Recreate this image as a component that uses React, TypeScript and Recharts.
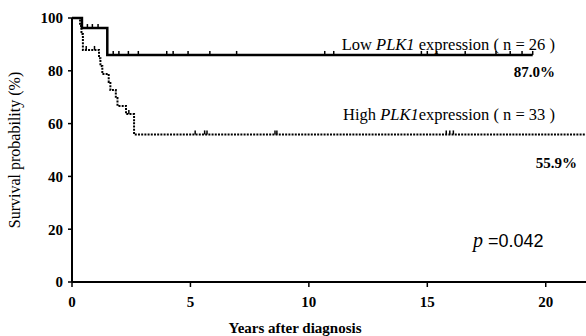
import { ComposedChart, Line, XAxis, YAxis } from "recharts";

// Kaplan-Meier step points (years, survival %)
const lowTime = [0, 0.42, 1.49];
const lowSurv = [100, 96.2, 86.0];
const lowCensor = [0.65, 0.86, 1.1, 1.74, 1.98, 2.38, 2.8, 4.0, 4.27, 4.9, 5.82, 6.95, 10.67, 11.05, 14.75, 15.0, 15.4, 16.6, 17.9, 18.5, 19.0, 19.45];

const highTime = [0, 0.34, 0.4, 0.46, 1.14, 1.2, 1.28, 1.55, 1.62, 1.85, 1.92, 2.28, 2.62];
const highSurv = [100, 97.0, 93.9, 87.9, 84.8, 81.8, 78.8, 75.8, 72.7, 69.7, 66.7, 63.6, 55.9];
const highCensor = [0.6, 0.95, 2.4, 5.2, 5.6, 5.7, 8.57, 8.65, 15.8, 15.95, 16.1];
const highEnd = 21.7;

const xTicks = [0, 5, 10, 15, 20];
const yTicks = [0, 20, 40, 60, 80, 100];

type Pt = { t: number; s: number; c?: boolean };

function buildCurve(times: number[], surv: number[], censor: number[], end?: number): Pt[] {
  const survAt = (t: number) => {
    let v = surv[0];
    times.forEach((tt, i) => {
      if (tt <= t) v = surv[i];
    });
    return v;
  };
  const pts: Pt[] = times.map((t, i) => ({ t, s: surv[i] }));
  censor.forEach((t) => pts.push({ t, s: survAt(t), c: true }));
  if (end !== undefined) pts.push({ t: end, s: survAt(end) });
  return pts.sort((a, b) => a.t - b.t);
}

const lowData = buildCurve(lowTime, lowSurv, lowCensor);
const highData = buildCurve(highTime, highSurv, highCensor, highEnd);

const serif = "'Liberation Serif', 'Times New Roman', serif";

function censorDot(props: any) {
  const { cx, cy, payload, index } = props;
  if (!payload?.c) return <g key={`n-${index}`} />;
  return (
    <line key={`c-${index}`} x1={cx} x2={cx} y1={cy - 4} y2={cy} stroke="#000" strokeWidth={1.5} />
  );
}

export default function App() {
  return (
    <div style={{ position: "absolute", left: 0, top: 0, width: 586, height: 336, background: "#fff", fontFamily: serif }}>
      <ComposedChart width={586} height={336} margin={{ top: 18, right: 0, bottom: 0, left: 0 }}>
        <XAxis
          dataKey="t"
          type="number"
          domain={[0, 21.7]}
          ticks={xTicks}
          allowDataOverflow
          height={54}
          axisLine={{ stroke: "#000", strokeWidth: 2 }}
          tickLine={{ stroke: "#000", strokeWidth: 1.5 }}
          tickSize={5}
          tickMargin={9}
          tick={{ fill: "#000", fontSize: 15, fontWeight: 700, fontFamily: serif }}
          label={{ value: "Years after diagnosis", position: "insideBottom", offset: 3, dx: -34, fill: "#000", fontSize: 15, fontWeight: 700, fontFamily: serif }}
        />
        <YAxis
          dataKey="s"
          type="number"
          domain={[0, 100]}
          ticks={yTicks}
          width={72}
          axisLine={{ stroke: "#000", strokeWidth: 2 }}
          tickLine={{ stroke: "#000", strokeWidth: 1.5 }}
          tickSize={4}
          tickMargin={5}
          tick={{ fill: "#000", fontSize: 15, fontWeight: 700, fontFamily: serif }}
          label={{ value: "Survival probability (%)", angle: -90, position: "insideLeft", offset: 14, dy: 0, fill: "#000", fontSize: 16, fontFamily: serif, style: { textAnchor: "middle" } }}
        />
        <Line
          data={lowData}
          dataKey="s"
          type="stepAfter"
          stroke="#000"
          strokeWidth={2.5}
          dot={censorDot}
          activeDot={false}
          isAnimationActive={false}
        />
        <Line
          data={highData}
          dataKey="s"
          type="stepAfter"
          stroke="#000"
          strokeWidth={2}
          strokeDasharray="2 1.2"
          dot={censorDot}
          activeDot={false}
          isAnimationActive={false}
        />
      </ComposedChart>
      <svg width={586} height={336} style={{ position: "absolute", left: 0, top: 0, pointerEvents: "none" }}>
        <text x={555} y={50} textAnchor="end" fontSize={16.5} fontFamily={serif} fill="#000">
          Low <tspan fontStyle="italic">PLK1</tspan> expression ( n = 26 )
        </text>
        <text x={555} y={77} textAnchor="end" fontSize={15} fontWeight={700} fontFamily={serif} fill="#000">
          87.0%
        </text>
        <text x={555} y={120} textAnchor="end" fontSize={16.5} fontFamily={serif} fill="#000">
          High <tspan fontStyle="italic">PLK1</tspan>expression ( n = 33 )
        </text>
        <text x={577} y={168} textAnchor="end" fontSize={15} fontWeight={700} fontFamily={serif} fill="#000">
          55.9%
        </text>
        <text x={473} y={247} fontSize={18} fontFamily="'Liberation Sans', Arial, sans-serif" fill="#000">
          <tspan fontStyle="italic" fontFamily={serif} fontSize={20}>p</tspan> =0.042
        </text>
      </svg>
    </div>
  );
}
